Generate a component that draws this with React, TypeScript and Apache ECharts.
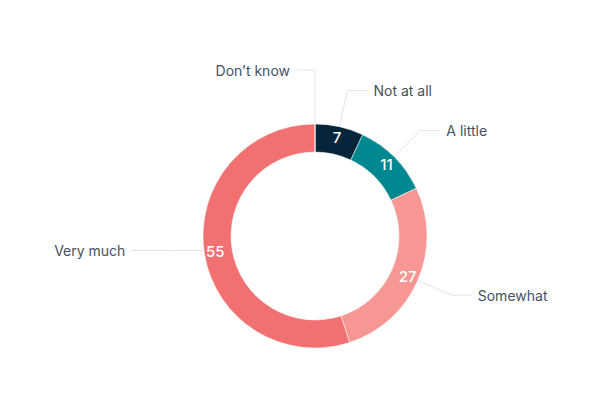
import React, { useEffect, useRef } from "react";
import * as echarts from "echarts";

const categories = ["Not at all", "A little", "Somewhat", "Very much", "Don\u2019t know"];
const values = [7, 11, 27, 55, 0];
const colors = ["#06243a", "#008891", "#f69793", "#f17072", "#cfd6de"];

const CX = 315;
const CY = 236;

export default function App() {
  const ref = useRef<HTMLDivElement>(null);
  useEffect(() => {
    if (!ref.current) return;
    const chart = echarts.init(ref.current, undefined, { renderer: "svg" });
    const data = categories.map((name, i) => ({
      name,
      value: values[i],
      itemStyle: { color: colors[i] },
    }));
    const font = "Inter, 'Noto Sans', sans-serif";
    chart.setOption({
      animation: false,
      backgroundColor: "#ffffff",
      series: [
        {
          type: "pie",
          center: [CX, CY],
          radius: [84, 112],
          startAngle: 90,
          clockwise: true,
          silent: true,
          itemStyle: { borderColor: "#ffffff", borderWidth: 0.5 },
          label: {
            show: true,
            position: "inside",
            color: "#ffffff",
            fontSize: 15,
            fontWeight: 500,
            fontFamily: font,
            formatter: (p: any) => (p.value === 0 ? "" : String(p.value)),
          },
          labelLine: { show: false },
          data,
        },
        {
          type: "pie",
          center: [CX, CY],
          radius: [84, 112],
          startAngle: 90,
          clockwise: true,
          silent: true,
          itemStyle: { color: "rgba(0,0,0,0)", borderWidth: 0 },
          label: {
            show: true,
            position: "outside",
            color: "#47525f",
            fontSize: 14,
            fontFamily: font,
            formatter: "{b}",
          },
          labelLine: {
            show: true,
            length: 37,
            length2: 20,
            lineStyle: { color: "#dfe4ea", width: 1 },
          },
          labelLayout: (p: any) => {
            const pts = p.labelLinePoints;
            if (!pts) return {};
            const [x0, y0] = pts[0];
            if (p.dataIndex === 4) {
              const ty = y0 - 54;
              return {
                x: x0 - 25,
                y: ty,
                align: "right",
                verticalAlign: "middle",
                labelLinePoints: [[x0, y0], [x0, ty], [x0 - 18, ty]],
              };
            }
            if (p.dataIndex === 3) {
              const y = y0 - 3;
              return {
                x: x0 - 79,
                y,
                align: "right",
                verticalAlign: "middle",
                labelLinePoints: [[x0, y], [x0 - 36, y], [x0 - 73, y]],
              };
            }
            const dx = x0 - CX;
            const dy = y0 - CY;
            const d = Math.sqrt(dx * dx + dy * dy) || 1;
            const x1 = x0 + (dx / d) * 37;
            const y1 = y0 + (dy / d) * 37;
            const side = dx >= 0 ? 1 : -1;
            const x2 = x1 + side * 20;
            return {
              x: x2 + side * 6,
              y: y1,
              align: side > 0 ? "left" : "right",
              verticalAlign: "middle",
              labelLinePoints: [[x0, y0], [x1, y1], [x2, y1]],
            };
          },
          data: categories.map((name, i) => ({ name, value: values[i] })),
        },
      ],
    });
    return () => chart.dispose();
  }, []);
  return <div ref={ref} style={{ width: 600, height: 400, position: "absolute", left: 0, top: 0 }} />;
}
